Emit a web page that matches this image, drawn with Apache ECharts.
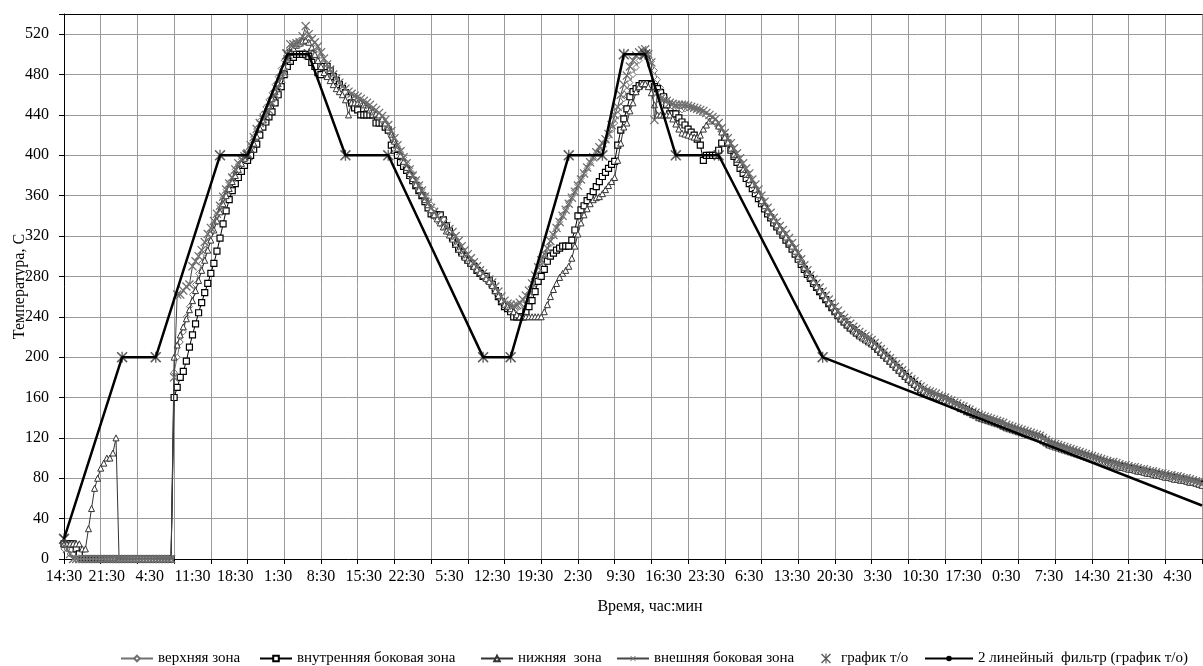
<!DOCTYPE html>
<html>
<head>
<meta charset="utf-8">
<script src="https://cdn.jsdelivr.net/npm/echarts@6/dist/echarts.min.js"></script>
<style>html,body{margin:0;padding:0;background:#fff;}#chart{width:1203px;height:666px;}</style>
</head>
<body>
<div id="chart"></div>
<script>
// ---- categories: half-hour readings starting at 14:30 ----
const startMinutes = 14 * 60 + 30;
const stepMinutes = 30;
const pointCount = 373;
const categories = Array.from({length: pointCount}, (_, j) => {
  const m = (startMinutes + j * stepMinutes) % 1440;
  return Math.floor(m / 60) + ':' + String(m % 60).padStart(2, '0');
});
const yTicks = [0, 40, 80, 120, 160, 200, 240, 280, 320, 360, 400, 440, 480, 520];

// ---- series values (°C) ----
const upperZone = [
10,10,5,5,0,0,0,0,0,0,
0,0,0,0,0,0,0,0,0,0,
0,0,0,0,0,0,0,0,0,0,
0,0,0,0,0,0,185,200,215,225,
240,250,262,272,283,293,303,313,322,332,
341,350,358,366,373,380,386,391,396,400,
404,410,418,426,434,441,448,455,462,470,
478,486,494,502,507,510,512,514,515,517,
515,511,506,500,494,488,483,478,473,469,
466,464,462,460,458,456,454,452,450,448,
446,444,442,440,437,433,428,422,415,409,
403,398,392,387,382,376,371,366,361,356,
351,346,341,337,333,329,325,321,316,310,
306,302,298,296,293,289,286,282,279,276,
273,268,262,257,253,250,248,248,248,250,
252,256,261,267,274,281,289,297,305,312,
320,327,334,341,347,353,359,365,371,377,
382,387,392,397,402,406,410,414,419,425,
432,440,448,456,464,472,480,487,494,500,
503,500,493,484,475,467,460,455,451,448,
446,445,445,446,447,447,446,445,444,442,
440,437,435,432,428,423,418,413,408,402,
397,392,387,382,377,372,367,362,356,351,
346,341,337,332,328,324,320,315,311,306,
301,296,290,285,280,276,271,267,263,259,
255,251,247,243,239,236,233,230,227,225,
222,220,218,216,214,212,209,206,203,200,
197,194,191,188,185,182,179,176,174,171,
169,167,165,164,163,162,161,160,158,157,
155,153,152,150,149,147,146,144,143,141,
140,139,138,137,136,135,134,133,131,130,
129,128,127,126,125,124,123,122,121,120,
118,116,114,113,112,111,110,109,108,107,
106,105,104,103,102,101,100,99,98,97,
96,95,94,94,93,92,92,91,90,90,
89,88,88,87,86,86,85,84,84,83,
82,81,81,80,80,79,78,78,77,76,
75,74,73];

const innerSideZone = [
15,15,15,15,10,5,0,0,0,0,
0,0,0,0,0,0,0,0,0,0,
0,0,0,0,0,0,0,0,0,0,
0,0,0,0,0,0,160,170,180,186,
196,210,222,233,244,254,264,273,283,293,
305,318,332,345,356,365,372,378,384,390,
395,400,406,411,420,428,433,438,443,452,
460,468,480,488,493,497,500,500,500,500,
498,492,488,482,480,488,488,484,478,474,
470,466,462,457,452,447,445,440,440,440,
440,440,432,432,432,428,425,410,405,400,
393,389,385,380,375,370,365,360,354,348,
342,341,341,341,336,330,325,318,312,307,
304,300,296,293,290,286,283,280,280,276,
272,266,260,255,250,248,245,240,240,240,
240,245,250,256,265,275,280,287,295,300,
303,306,308,310,310,310,316,326,340,346,
350,355,359,364,369,374,379,383,387,391,
394,410,425,436,446,458,463,466,469,471,
471,471,470,468,466,462,458,450,441,441,
441,437,433,430,426,423,420,416,410,395,
400,400,400,400,405,412,418,412,405,399,
393,387,382,377,372,367,362,357,352,347,
342,338,333,329,325,321,316,312,307,302,
297,292,287,282,278,273,269,265,261,257,
253,249,245,241,238,235,232,229,227,224,
222,220,218,216,214,211,208,205,202,199,
196,193,190,187,184,181,178,176,173,171,
168,166,165,163,162,161,160,159,158,156,
155,153,152,150,149,148,146,145,143,142,
140,139,138,137,136,135,134,132,131,130,
129,128,127,126,125,124,123,122,121,120,
118,116,114,113,112,111,110,109,108,107,
106,105,104,103,102,101,100,99,98,97,
96,95,95,94,93,92,91,91,90,89,
89,88,87,87,86,85,85,84,83,83,
82,82,81,80,80,79,79,78,77,77,
76,75,74];

const lowerZone = [
15,15,15,15,15,15,10,10,30,50,
70,80,90,95,100,100,105,120,0,0,
0,0,0,0,0,0,0,0,0,0,
0,0,0,0,0,0,200,212,222,230,
238,247,256,266,276,286,296,306,316,326,
335,344,352,360,367,374,380,386,392,397,
401,406,412,419,427,435,442,449,456,463,
471,479,487,495,502,506,509,511,513,514,
512,507,500,494,488,482,478,474,470,466,
463,460,455,440,452,452,452,452,450,447,
445,443,441,440,436,432,428,421,414,407,
400,394,388,382,377,371,366,361,356,351,
346,341,337,333,329,325,321,317,312,307,
303,299,296,293,290,287,284,281,278,275,
271,266,261,256,252,250,248,245,242,240,
240,240,240,240,240,240,240,245,252,260,
267,273,279,283,286,290,298,310,322,333,
341,347,352,356,358,359,362,366,370,374,
378,395,412,428,432,444,452,463,468,471,
471,468,462,450,440,440,440,440,440,436,
431,426,422,421,420,419,418,418,420,426,
430,434,436,434,429,423,418,413,407,401,
396,391,386,381,376,371,366,361,355,350,
345,340,336,331,327,323,319,314,310,305,
300,295,289,284,279,275,270,266,262,258,
254,250,246,242,238,235,232,229,226,224,
221,219,217,215,213,211,208,205,202,199,
196,193,190,187,184,181,178,175,173,170,
168,166,164,163,162,161,160,158,157,155,
154,152,151,149,148,146,145,143,142,140,
139,138,137,136,135,134,133,132,130,129,
128,127,126,125,124,123,122,121,120,119,
117,115,113,112,111,110,109,108,107,106,
105,104,103,102,101,100,99,98,97,96,
95,94,94,93,92,91,91,90,89,89,
88,87,87,86,85,85,84,83,83,82,
81,81,80,79,79,78,78,77,76,76,
75,74,73];

const outerSideZone = [
20,10,5,0,0,0,0,0,0,0,
0,0,0,0,0,0,0,0,0,0,
0,0,0,0,0,0,0,0,0,0,
0,0,0,0,0,0,180,262,262,266,
270,272,290,295,300,306,314,322,328,335,
342,350,359,366,372,378,386,392,396,399,
402,410,418,426,432,436,440,445,452,460,
468,476,482,495,510,510,511,512,518,528,
520,515,512,508,502,496,490,485,480,476,
472,468,466,463,461,459,458,456,454,452,
450,447,445,442,439,435,430,424,417,410,
404,398,392,386,380,375,370,365,359,353,
348,344,340,336,333,330,327,324,320,315,
310,306,302,298,294,290,286,283,280,277,
274,270,265,260,256,253,252,251,252,254,
257,261,266,273,281,289,296,302,308,315,
321,328,334,340,346,352,358,364,370,376,
382,388,393,398,403,408,412,416,421,430,
440,448,460,470,479,488,494,499,502,504,
505,500,492,435,462,456,455,454,452,451,
450,450,450,450,449,448,447,446,445,444,
442,440,438,436,432,427,422,417,412,407,
402,397,392,387,382,376,371,366,360,354,
348,343,338,334,330,326,322,318,313,308,
303,297,291,286,281,277,273,269,265,261,
257,254,250,246,242,239,236,233,230,228,
225,223,221,219,217,214,211,208,205,202,
199,196,193,190,187,184,181,178,176,173,
171,169,167,166,165,164,162,161,160,158,
157,155,154,152,151,149,148,146,145,143,
142,141,140,139,138,137,136,135,133,132,
131,130,129,128,127,126,125,124,123,122,
120,118,116,115,114,113,112,111,110,109,
108,107,106,105,104,103,102,101,100,99,
98,97,96,96,95,94,93,93,92,91,
91,90,89,89,88,87,87,86,85,85,
84,83,83,82,82,81,80,80,79,78,
77,76,75];

// heat-treatment schedule points (category index, °C)
const scheduleIndex = [0, 19, 30, 51, 60, 73, 80, 92, 106, 137, 146, 165, 176, 183, 190, 200, 214, 248];
const scheduleValue = [20, 200, 200, 400, 400, 500, 500, 400, 400, 200, 200, 400, 400, 500, 500, 400, 400, 200];
// 2-point moving-average line of the schedule (vertices, incl. end at right edge)
const filterIndex = [0, 19, 30, 51, 60, 73, 80, 92, 106, 137, 146, 165, 176, 183, 190, 200, 214, 248, 372];
const filterValue = [20, 200, 200, 400, 400, 500, 500, 400, 400, 200, 200, 400, 400, 500, 500, 400, 400, 200, 53];

[upperZone, innerSideZone, lowerZone, outerSideZone].forEach((a, k) => {
  if (a.length !== pointCount) throw new Error('series ' + k + ' has ' + a.length + ' points');
});

const names = ['верхняя зона', 'внутренняя боковая зона', 'нижняя  зона', 'внешняя боковая зона', 'график т/о', '2 линейный  фильтр (график т/о)'];
const X_PATH = 'path://M1,0L5,4L9,0L10,1L6,5L10,9L9,10L5,6L1,10L0,9L4,5L0,1Z';
const STAR_PATH = 'path://M1,0L5,4L9,0L10,1L6,5L10,9L9,10L5,6L1,10L0,9L4,5L0,1Z M4.4,0L5.6,0L5.6,10L4.4,10Z';
const FONT = '"Liberation Serif", "Times New Roman", serif';

const chart = echarts.init(document.getElementById('chart'), null, {renderer: 'canvas'});
const legendBase = {top: 646, itemHeight: 7, itemWidth: 32, textStyle: {fontFamily: FONT, fontSize: 15, color: '#000'}, selectedMode: false};

chart.setOption({
  animation: false,
  backgroundColor: '#fff',
  grid: {left: 64, right: 1, top: 14, bottom: 107, containLabel: false, outerBoundsMode: 'none'},
  legend: [
    Object.assign({}, legendBase, {left: 115, data: [names[0]]}),
    Object.assign({}, legendBase, {left: 254, data: [names[1]]}),
    Object.assign({}, legendBase, {left: 475, data: [names[2]]}),
    Object.assign({}, legendBase, {left: 611, data: [names[3]]}),
    Object.assign({}, legendBase, {left: 816, itemWidth: 20, itemHeight: 10, data: [names[4]]}),
    Object.assign({}, legendBase, {left: 919, itemWidth: 48, data: [names[5]]})
  ],
  xAxis: [{
    type: 'category',
    data: categories,
    boundaryGap: false,
    name: 'Время, час:мин',
    nameLocation: 'middle',
    nameGap: 40,
    nameMoveOverlap: false,
    nameTextStyle: {fontFamily: FONT, fontSize: 16, color: '#000', padding: [0, 0, 0, 34]},
    axisLine: {lineStyle: {color: '#000', width: 1}},
    axisTick: {interval: 11, length: 5, lineStyle: {color: '#000'}},
    axisLabel: {interval: 13, margin: 10, fontFamily: FONT, fontSize: 16, color: '#000'},
    splitLine: {show: true, interval: 11, lineStyle: {color: '#9a9a9a', width: 1}}
  }, {
    type: 'category',
    data: categories,
    boundaryGap: false,
    position: 'top',
    axisLine: {show: true, lineStyle: {color: '#000', width: 1}},
    axisTick: {show: false},
    axisLabel: {show: false},
    splitLine: {show: false}
  }],
  yAxis: {
    type: 'value',
    min: 0,
    max: 540,
    interval: 40,
    name: 'Температура, С',
    nameLocation: 'middle',
    nameRotate: 90,
    nameGap: 36,
    nameMoveOverlap: false,
    nameTextStyle: {fontFamily: FONT, fontSize: 16, color: '#000'},
    axisLine: {show: true, lineStyle: {color: '#000', width: 1}},
    axisTick: {show: true, length: 5, lineStyle: {color: '#000'}},
    axisLabel: {margin: 15, fontFamily: FONT, fontSize: 16, color: '#000',
      formatter: v => (yTicks.indexOf(v) >= 0 ? String(v) : '')},
    splitLine: {show: true, lineStyle: {color: '#9a9a9a', width: 1}}
  },
  series: [
    {name: names[0], type: 'line', data: upperZone, showAllSymbol: true,
     symbol: 'diamond', symbolSize: 6,
     itemStyle: {color: '#fff', borderColor: '#707070', borderWidth: 1},
     lineStyle: {color: '#707070', width: 1}, z: 2},
    {name: names[1], type: 'line', data: innerSideZone, showAllSymbol: true,
     symbol: 'rect', symbolSize: 6,
     itemStyle: {color: '#fff', borderColor: '#000', borderWidth: 1.2},
     lineStyle: {color: '#000', width: 1}, z: 3},
    {name: names[2], type: 'line', data: lowerZone, showAllSymbol: true,
     symbol: 'triangle', symbolSize: 6,
     itemStyle: {color: '#fff', borderColor: '#333', borderWidth: 1},
     lineStyle: {color: '#333', width: 1}, z: 4},
    {name: names[3], type: 'line', data: outerSideZone, showAllSymbol: true,
     symbol: X_PATH, symbolSize: 9,
     itemStyle: {color: '#6e6e6e'},
     lineStyle: {color: '#444', width: 1}, z: 5},
    {name: names[4], type: 'scatter',
     data: scheduleIndex.map((j, k) => [j, scheduleValue[k]]),
     symbol: STAR_PATH, symbolSize: 11,
     itemStyle: {color: '#333'}, z: 6},
    {name: names[5], type: 'line',
     data: filterIndex.map((j, k) => [j, filterValue[k]]),
     showSymbol: false, symbol: 'none',
     lineStyle: {color: '#000', width: 2.5}, itemStyle: {color: '#000'}, z: 7}
  ]
});
</script>
</body>
</html>
